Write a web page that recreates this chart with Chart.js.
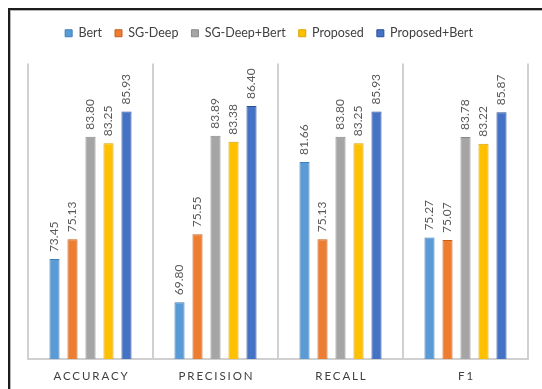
<!DOCTYPE html>
<html>
<head>
<meta charset="utf-8">
<script src="https://cdn.jsdelivr.net/npm/chart.js@4/dist/chart.umd.min.js"></script>
<style>
  html, body { margin: 0; padding: 0; background: #fff; overflow: hidden; }
  #wrap { position: relative; width: 542px; height: 389px; }
  #frame {
    position: absolute; left: 8px; top: 8px; width: 600px; height: 450px;
    border-left: 2px solid #1c1c1c; border-top: 2px solid #1c1c1c;
    box-shadow: inset 1px 1px 0 #b5b5b5; pointer-events: none;
  }
  canvas { position: absolute; left: 0; top: 0; }
</style>
</head>
<body>
<div id="wrap">
  <canvas id="c" width="542" height="389"></canvas>
  <div id="frame"></div>
</div>
<script>
// Evaluation metrics per method
const categories = ['ACCURACY', 'PRECISION', 'RECALL', 'F1'];
const seriesNames = ['Bert', 'SG-Deep', 'SG-Deep+Bert', 'Proposed', 'Proposed+Bert'];
const bert        = [73.45, 69.80, 81.66, 75.27];
const sgDeep      = [75.13, 75.55, 75.13, 75.07];
const sgDeepBert  = [83.80, 83.89, 83.80, 83.78];
const proposed    = [83.25, 83.38, 83.25, 83.22];
const proposedBert= [85.93, 86.40, 85.93, 85.87];
const yMin = 65, yMax = 90;

const fills   = ['#5b9bd5', '#ed7d31', '#a5a5a5', '#ffc000', '#4472c4'];
const borders = ['#3f7fb9', '#c45f1c', '#8a8a8a', '#d9a300', '#2b4f99'];
const seriesValues = [bert, sgDeep, sgDeepBert, proposed, proposedBert];

const FONT = 'Lato, "Liberation Sans", sans-serif';

// Rotated value labels above each bar
const valueLabels = {
  id: 'valueLabels',
  afterDatasetsDraw(chart) {
    const ctx = chart.ctx;
    ctx.save();
    ctx.font = '12px ' + FONT;
    ctx.fillStyle = '#595959';
    ctx.textAlign = 'left';
    ctx.textBaseline = 'middle';
    chart.data.datasets.forEach((ds, i) => {
      chart.getDatasetMeta(i).data.forEach((bar, j) => {
        ctx.save();
        ctx.translate(bar.x, bar.y - 7);
        ctx.rotate(-Math.PI / 2);
        ctx.fillText(ds.data[j].toFixed(2), 0, 0);
        ctx.restore();
      });
    });
    ctx.restore();
  }
};

// Letter-spaced category labels under the axis
const categoryLabels = {
  id: 'categoryLabels',
  afterDraw(chart) {
    const ctx = chart.ctx;
    const xs = chart.scales.x;
    ctx.save();
    ctx.font = '11.5px ' + FONT;
    ctx.fillStyle = '#404040';
    ctx.textAlign = 'center';
    ctx.textBaseline = 'middle';
    if ('letterSpacing' in ctx) ctx.letterSpacing = '1.9px';
    categories.forEach((c, i) => {
      ctx.fillText(c, xs.getPixelForValue(i) + 1, xs.bottom - 13);
    });
    ctx.restore();
  }
};

new Chart(document.getElementById('c'), {
  type: 'bar',
  data: {
    labels: categories,
    datasets: seriesNames.map((name, i) => ({
      label: name,
      data: seriesValues[i],
      backgroundColor: fills[i],
      borderColor: borders[i],
      borderWidth: 1,
      categoryPercentage: 0.72,
      barPercentage: 0.56
    }))
  },
  options: {
    responsive: false,
    animation: false,
    devicePixelRatio: 1,
    layout: { padding: { top: 14, left: 10, right: 14, bottom: 0 } },
    plugins: {
      legend: {
        position: 'top',
        labels: {
          boxWidth: 7, boxHeight: 7, padding: 13,
          color: '#404040',
          font: { family: FONT, size: 12.5 }
        }
      },
      tooltip: { enabled: false }
    },
    scales: {
      x: {
        grid: { offset: true, color: '#d0d0d0', lineWidth: 2, drawTicks: false },
        border: { display: true, color: '#d0d0d0', width: 2 },
        ticks: { display: false },
        afterFit(s) { s.height = 30; }
      },
      // empty spacer band between the legend and the plot
      xTop: {
        type: 'category',
        position: 'top',
        grid: { display: false },
        border: { display: false },
        ticks: { display: false },
        afterFit(s) { s.height = 14; }
      },
      y: {
        min: yMin, max: yMax,
        grid: { display: false },
        border: { display: false },
        ticks: { display: false },
        afterFit(s) { s.width = 18; }
      }
    }
  },
  plugins: [valueLabels, categoryLabels]
});
</script>
</body>
</html>
